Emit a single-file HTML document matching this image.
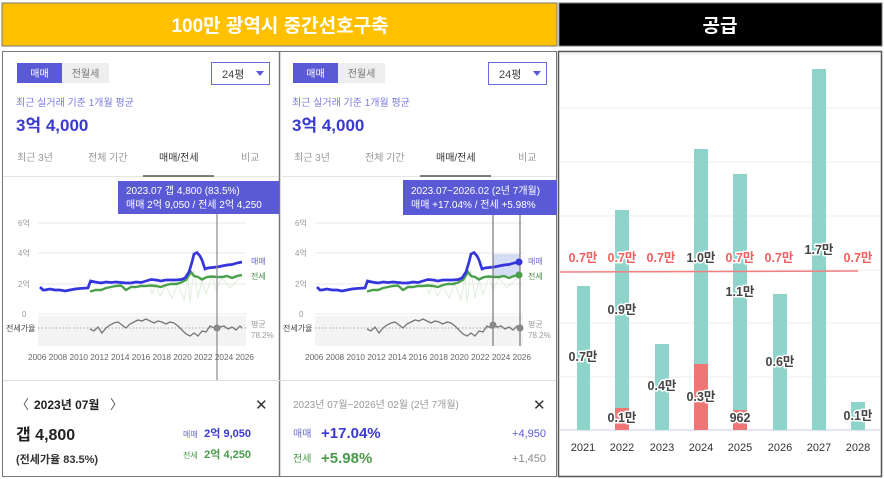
<!DOCTYPE html>
<html><head><meta charset="utf-8"><style>
html,body{margin:0;padding:0;background:#fff;}
svg{display:block;font-family:"Liberation Sans","Noto Sans CJK KR",sans-serif;}
.halo{paint-order:stroke;stroke:#fff;stroke-width:3px;stroke-linejoin:round;}
</style></head><body>
<svg width="884" height="479" viewBox="0 0 884 479" xmlns="http://www.w3.org/2000/svg">
<defs>
<g id="lines">
 <rect x="38" y="316" width="208" height="30" fill="#f4f4f4"/>
 <line x1="38" y1="223" x2="246" y2="223" stroke="#e8e8e8"/>
 <line x1="38" y1="253" x2="246" y2="253" stroke="#e8e8e8"/>
 <line x1="38" y1="284" x2="246" y2="284" stroke="#e8e8e8"/>
 <line x1="38" y1="314" x2="246" y2="314" stroke="#e8e8e8"/>
 <line x1="38" y1="328" x2="246" y2="328" stroke="#aaa" stroke-dasharray="1.5,2"/>
 <polyline fill="none" stroke="#dfeedb" stroke-width="1" points="150,286 152,294 156,284 160,296 166,286 172,298 178,284 184,300 188,278 190,302 194,270 198,298 202,280 206,294 212,276 216,290 222,278 230,288 242,276"/>
 <polyline fill="none" stroke="#4aa04a" stroke-width="2.4" points="90,291.5 96,290 101,290 106,288 111,287 116,286 121,285.5 126,290 131,287 136,287 141,286 146,286 151,285.5 156,286 161,287 166,285 171,284 176,284 181,282.5 186,280 191,272 194,276 198,277 202,279.5 207,277 212,276.5 217,277 222,277 227,276 232,278 237,276 242,275"/>
 <polyline fill="none" stroke="#3535dd" stroke-width="2.7" points="40,287 43,290 45,290 50,289 55,290 60,290 65,291 70,290 75,289 80,288.5 88,288 90.5,281 95,282 101,283 106,282 111,282.5 116,282 121,282.5 126,283 131,283 136,282 141,282.5 146,281 151,279.5 156,280 161,281 166,280 171,280 176,280 181,279.5 185,278 189,272 192,262 194,254 197,252.5 200,256 202,260 205,269 208,268 212,267.5 217,267 222,266 227,265 232,264.5 237,263 242,262"/>
 <polyline fill="none" stroke="#777" stroke-width="1.3" points="90,329 94,331 98,327 102,333 106,328 110,325 114,323 118,322 122,325 126,328 130,324 134,322 138,320 142,321 146,319 150,321 154,323 158,321 162,322 166,324 170,322 174,323 178,326 182,330 186,334 190,336 194,333 198,336 202,331 206,332 210,326 214,328 217,325 220,327 224,326 228,329 232,327 236,330 240,326 242,328"/>
</g>
</defs>
<rect x="2" y="3" width="555" height="43" fill="#ffc000" stroke="#777" stroke-width="1"/>
<text x="280" y="32" text-anchor="middle" font-size="19" font-weight="bold" fill="#fff">100만 광역시 중간선호구축</text>
<rect x="559" y="3" width="323" height="43" fill="#000" stroke="#777"/>
<text x="720" y="32" text-anchor="middle" font-size="19" font-weight="bold" fill="#fff">공급</text>
<rect x="2.5" y="51.5" width="554" height="425" fill="none" stroke="#777"/>
<line x1="279.5" y1="51" x2="279.5" y2="477" stroke="#777" stroke-width="1.5"/>
<rect x="558.5" y="51.5" width="323" height="425" fill="none" stroke="#555" stroke-width="1.5"/>
<line x1="3" y1="380.5" x2="556" y2="380.5" stroke="#ddd"/>

<g>
 <rect x="17" y="63" width="45" height="20" fill="#5a5ad6"/>
 <text x="39.5" y="77" text-anchor="middle" font-size="10" fill="#fff">매매</text>
 <rect x="62" y="63" width="47" height="20" fill="#eee"/>
 <text x="85.5" y="77" text-anchor="middle" font-size="10" fill="#777">전월세</text>
 <rect x="211.5" y="62.5" width="58" height="22" fill="#fff" stroke="#6a6ad6"/>
 <text x="222" y="78" font-size="11" fill="#444">24평</text>
 <path d="M256 71 L264 71 L260 76Z" fill="#5a5ad6"/>
 <text x="16" y="106" font-size="10" fill="#7a7ae0">최근 실거래 기준 1개월 평균</text>
 <text x="16" y="131" font-size="17" font-weight="bold" fill="#3a3ad0">3억 4,000</text>
 <text x="17" y="161" font-size="10" fill="#999">최근 3년</text>
 <text x="88" y="161" font-size="10" fill="#999">전체 기간</text>
 <text x="159" y="161" font-size="10" fill="#333">매매/전세</text>
 <text x="241" y="161" font-size="10" fill="#999">비교</text>
 <line x1="3" y1="176.5" x2="279" y2="176.5" stroke="#e5e5e5"/>
 <line x1="143" y1="176" x2="214" y2="176" stroke="#555" stroke-width="1.5"/>
 <use href="#lines"/>
 <line x1="217" y1="200" x2="217" y2="380" stroke="#888" stroke-width="1.2"/>
 <circle cx="217" cy="328" r="3.5" fill="#888"/>
 <rect x="118" y="181" width="161" height="33" fill="#5a5ad6"/>
 <text x="126" y="194" font-size="10" fill="#fff">2023.07  갭 4,800 (83.5%)</text>
 <text x="126" y="208" font-size="10" fill="#fff">매매 2억 9,050 / 전세 2억 4,250</text>
 <g font-size="8" fill="#999">
  <text x="18" y="226">6억</text><text x="18" y="256">4억</text><text x="18" y="287">2억</text><text x="22" y="317">0</text>
  <text x="6" y="331" fill="#444">전세가율</text>
  <text x="251" y="264" fill="#6a6ad6">매매</text><text x="251" y="279" fill="#4a8a4a">전세</text>
  <text x="251" y="327">평균</text><text x="251" y="338">78.2%</text>
 </g>
 <text x="141" y="360" text-anchor="middle" font-size="8.3" fill="#666">2006 2008 2010 2012 2014 2016 2018 2020 2022 2024 2026</text>
 <text x="16" y="409" font-size="13" fill="#555">〈</text>
 <text x="34" y="409" font-size="12" font-weight="bold" fill="#222">2023년 07월</text>
 <text x="110" y="409" font-size="13" fill="#555">〉</text>
 <text x="255" y="410" font-size="15" fill="#333">✕</text>
 <text x="16" y="440" font-size="16" font-weight="bold" fill="#222">갭 4,800</text>
 <text x="16" y="463" font-size="11" font-weight="bold" fill="#333">(전세가율 83.5%)</text>
 <text x="183" y="437" font-size="8" fill="#6a6ad6">매매</text>
 <text x="251" y="437" text-anchor="end" font-size="11" font-weight="bold" fill="#3a3ad0">2억 9,050</text>
 <text x="183" y="458" font-size="8" fill="#4a9a4a">전세</text>
 <text x="251" y="458" text-anchor="end" font-size="11" font-weight="bold" fill="#4a9a4a">2억 4,250</text>
</g>

<g>
 <rect x="293" y="63" width="45" height="20" fill="#5a5ad6"/>
 <text x="315.5" y="77" text-anchor="middle" font-size="10" fill="#fff">매매</text>
 <rect x="338" y="63" width="47" height="20" fill="#eee"/>
 <text x="361.5" y="77" text-anchor="middle" font-size="10" fill="#777">전월세</text>
 <rect x="488.5" y="62.5" width="58" height="22" fill="#fff" stroke="#6a6ad6"/>
 <text x="499" y="78" font-size="11" fill="#444">24평</text>
 <path d="M533 71 L541 71 L537 76Z" fill="#5a5ad6"/>
 <text x="292" y="106" font-size="10" fill="#7a7ae0">최근 실거래 기준 1개월 평균</text>
 <text x="292" y="131" font-size="17" font-weight="bold" fill="#3a3ad0">3억 4,000</text>
 <text x="294" y="161" font-size="10" fill="#999">최근 3년</text>
 <text x="365" y="161" font-size="10" fill="#999">전체 기간</text>
 <text x="436" y="161" font-size="10" fill="#333">매매/전세</text>
 <text x="518" y="161" font-size="10" fill="#999">비교</text>
 <line x1="280" y1="176.5" x2="556" y2="176.5" stroke="#e5e5e5"/>
 <line x1="420" y1="176" x2="491" y2="176" stroke="#555" stroke-width="1.5"/>
 <rect x="493" y="254" width="27" height="22" fill="#c8d4f4" opacity="0.8"/>
 <use href="#lines" transform="translate(277,0)"/>
 <line x1="493" y1="200" x2="493" y2="346" stroke="#777" stroke-width="1.2"/>
 <line x1="520" y1="200" x2="520" y2="346" stroke="#777" stroke-width="1.2"/>
 <circle cx="493" cy="325" r="3.5" fill="#888"/><circle cx="520" cy="328" r="3.5" fill="#888"/>
 <circle cx="519" cy="262" r="3.5" fill="#3535dd"/><circle cx="519" cy="275" r="3.5" fill="#4aa04a"/>
 <rect x="403" y="180" width="154" height="35" fill="#5a5ad6"/>
 <text x="411" y="194" font-size="10" fill="#fff">2023.07~2026.02 (2년 7개월)</text>
 <text x="411" y="208" font-size="10" fill="#fff">매매 +17.04%  /  전세 +5.98%</text>
 <g font-size="8" fill="#999">
  <text x="295" y="226">6억</text><text x="295" y="256">4억</text><text x="295" y="287">2억</text><text x="299" y="317">0</text>
  <text x="283" y="331" fill="#444">전세가율</text>
  <text x="528" y="264" fill="#6a6ad6">매매</text><text x="528" y="279" fill="#4a8a4a">전세</text>
  <text x="528" y="327">평균</text><text x="528" y="338">78.2%</text>
 </g>
 <text x="418" y="360" text-anchor="middle" font-size="8.3" fill="#666">2006 2008 2010 2012 2014 2016 2018 2020 2022 2024 2026</text>
 <text x="293" y="408" font-size="10" fill="#999">2023년 07월~2026년 02월 (2년 7개월)</text>
 <text x="533" y="410" font-size="15" fill="#333">✕</text>
 <text x="293" y="437" font-size="10" fill="#6a6ad6">매매</text>
 <text x="321" y="438" font-size="15" font-weight="bold" fill="#3a3ad0">+17.04%</text>
 <text x="546" y="437" text-anchor="end" font-size="11" fill="#5a5ad6">+4,950</text>
 <text x="293" y="462" font-size="10" fill="#4a9a4a">전세</text>
 <text x="321" y="463" font-size="15" font-weight="bold" fill="#4a9a4a">+5.98%</text>
 <text x="546" y="462" text-anchor="end" font-size="11" fill="#888">+1,450</text>
</g>

<g stroke="#eee" stroke-width="1">
 <line x1="559" y1="54" x2="880" y2="54"/>
 <line x1="559" y1="108" x2="880" y2="108"/><line x1="559" y1="162" x2="880" y2="162"/>
 <line x1="559" y1="216" x2="880" y2="216"/><line x1="559" y1="270" x2="880" y2="270"/>
 <line x1="559" y1="323" x2="880" y2="323"/><line x1="559" y1="377" x2="880" y2="377"/>
</g>
<line x1="559" y1="430" x2="880" y2="430" stroke="#c8cdf0"/>
<g fill="#8fd4cb">
 <rect x="577" y="286" width="13" height="144"/>
 <rect x="615" y="210" width="14" height="220"/>
 <rect x="655" y="344" width="14" height="86"/>
 <rect x="694" y="149" width="14" height="281"/>
 <rect x="733" y="174" width="14" height="256"/>
 <rect x="773" y="294" width="14" height="136"/>
 <rect x="812" y="69" width="14" height="361"/>
 <rect x="851" y="402" width="14" height="28"/>
</g>
<g fill="#f07575">
 <rect x="615" y="408" width="14" height="22"/>
 <rect x="694" y="364" width="14" height="66"/>
 <rect x="733" y="410" width="14" height="20"/>
</g>
<line x1="560" y1="272" x2="858" y2="271" stroke="#f08080" stroke-width="1.5"/>
<g font-size="12.5" font-weight="bold" text-anchor="middle" class="halo">
 <g fill="#f06060">
  <text x="583" y="262">0.7만</text><text x="622" y="262">0.7만</text><text x="661" y="262">0.7만</text>
  <text x="740" y="262">0.7만</text><text x="779" y="262">0.7만</text><text x="858" y="262">0.7만</text>
 </g>
 <g fill="#444">
  <text x="701" y="262">1.0만</text><text x="819" y="254">1.7만</text>
  <text x="583" y="361">0.7만</text><text x="622" y="314">0.9만</text><text x="622" y="422">0.1만</text>
  <text x="662" y="390">0.4만</text><text x="701" y="401">0.3만</text>
  <text x="740" y="296">1.1만</text><text x="740" y="422">962</text>
  <text x="780" y="366">0.6만</text><text x="858" y="420">0.1만</text>
 </g>
</g>
<g font-size="11" fill="#333" text-anchor="middle">
 <text x="583" y="451">2021</text><text x="622" y="451">2022</text><text x="662" y="451">2023</text><text x="701" y="451">2024</text>
 <text x="740" y="451">2025</text><text x="780" y="451">2026</text><text x="819" y="451">2027</text><text x="858" y="451">2028</text>
</g>
</svg>
</body></html>
